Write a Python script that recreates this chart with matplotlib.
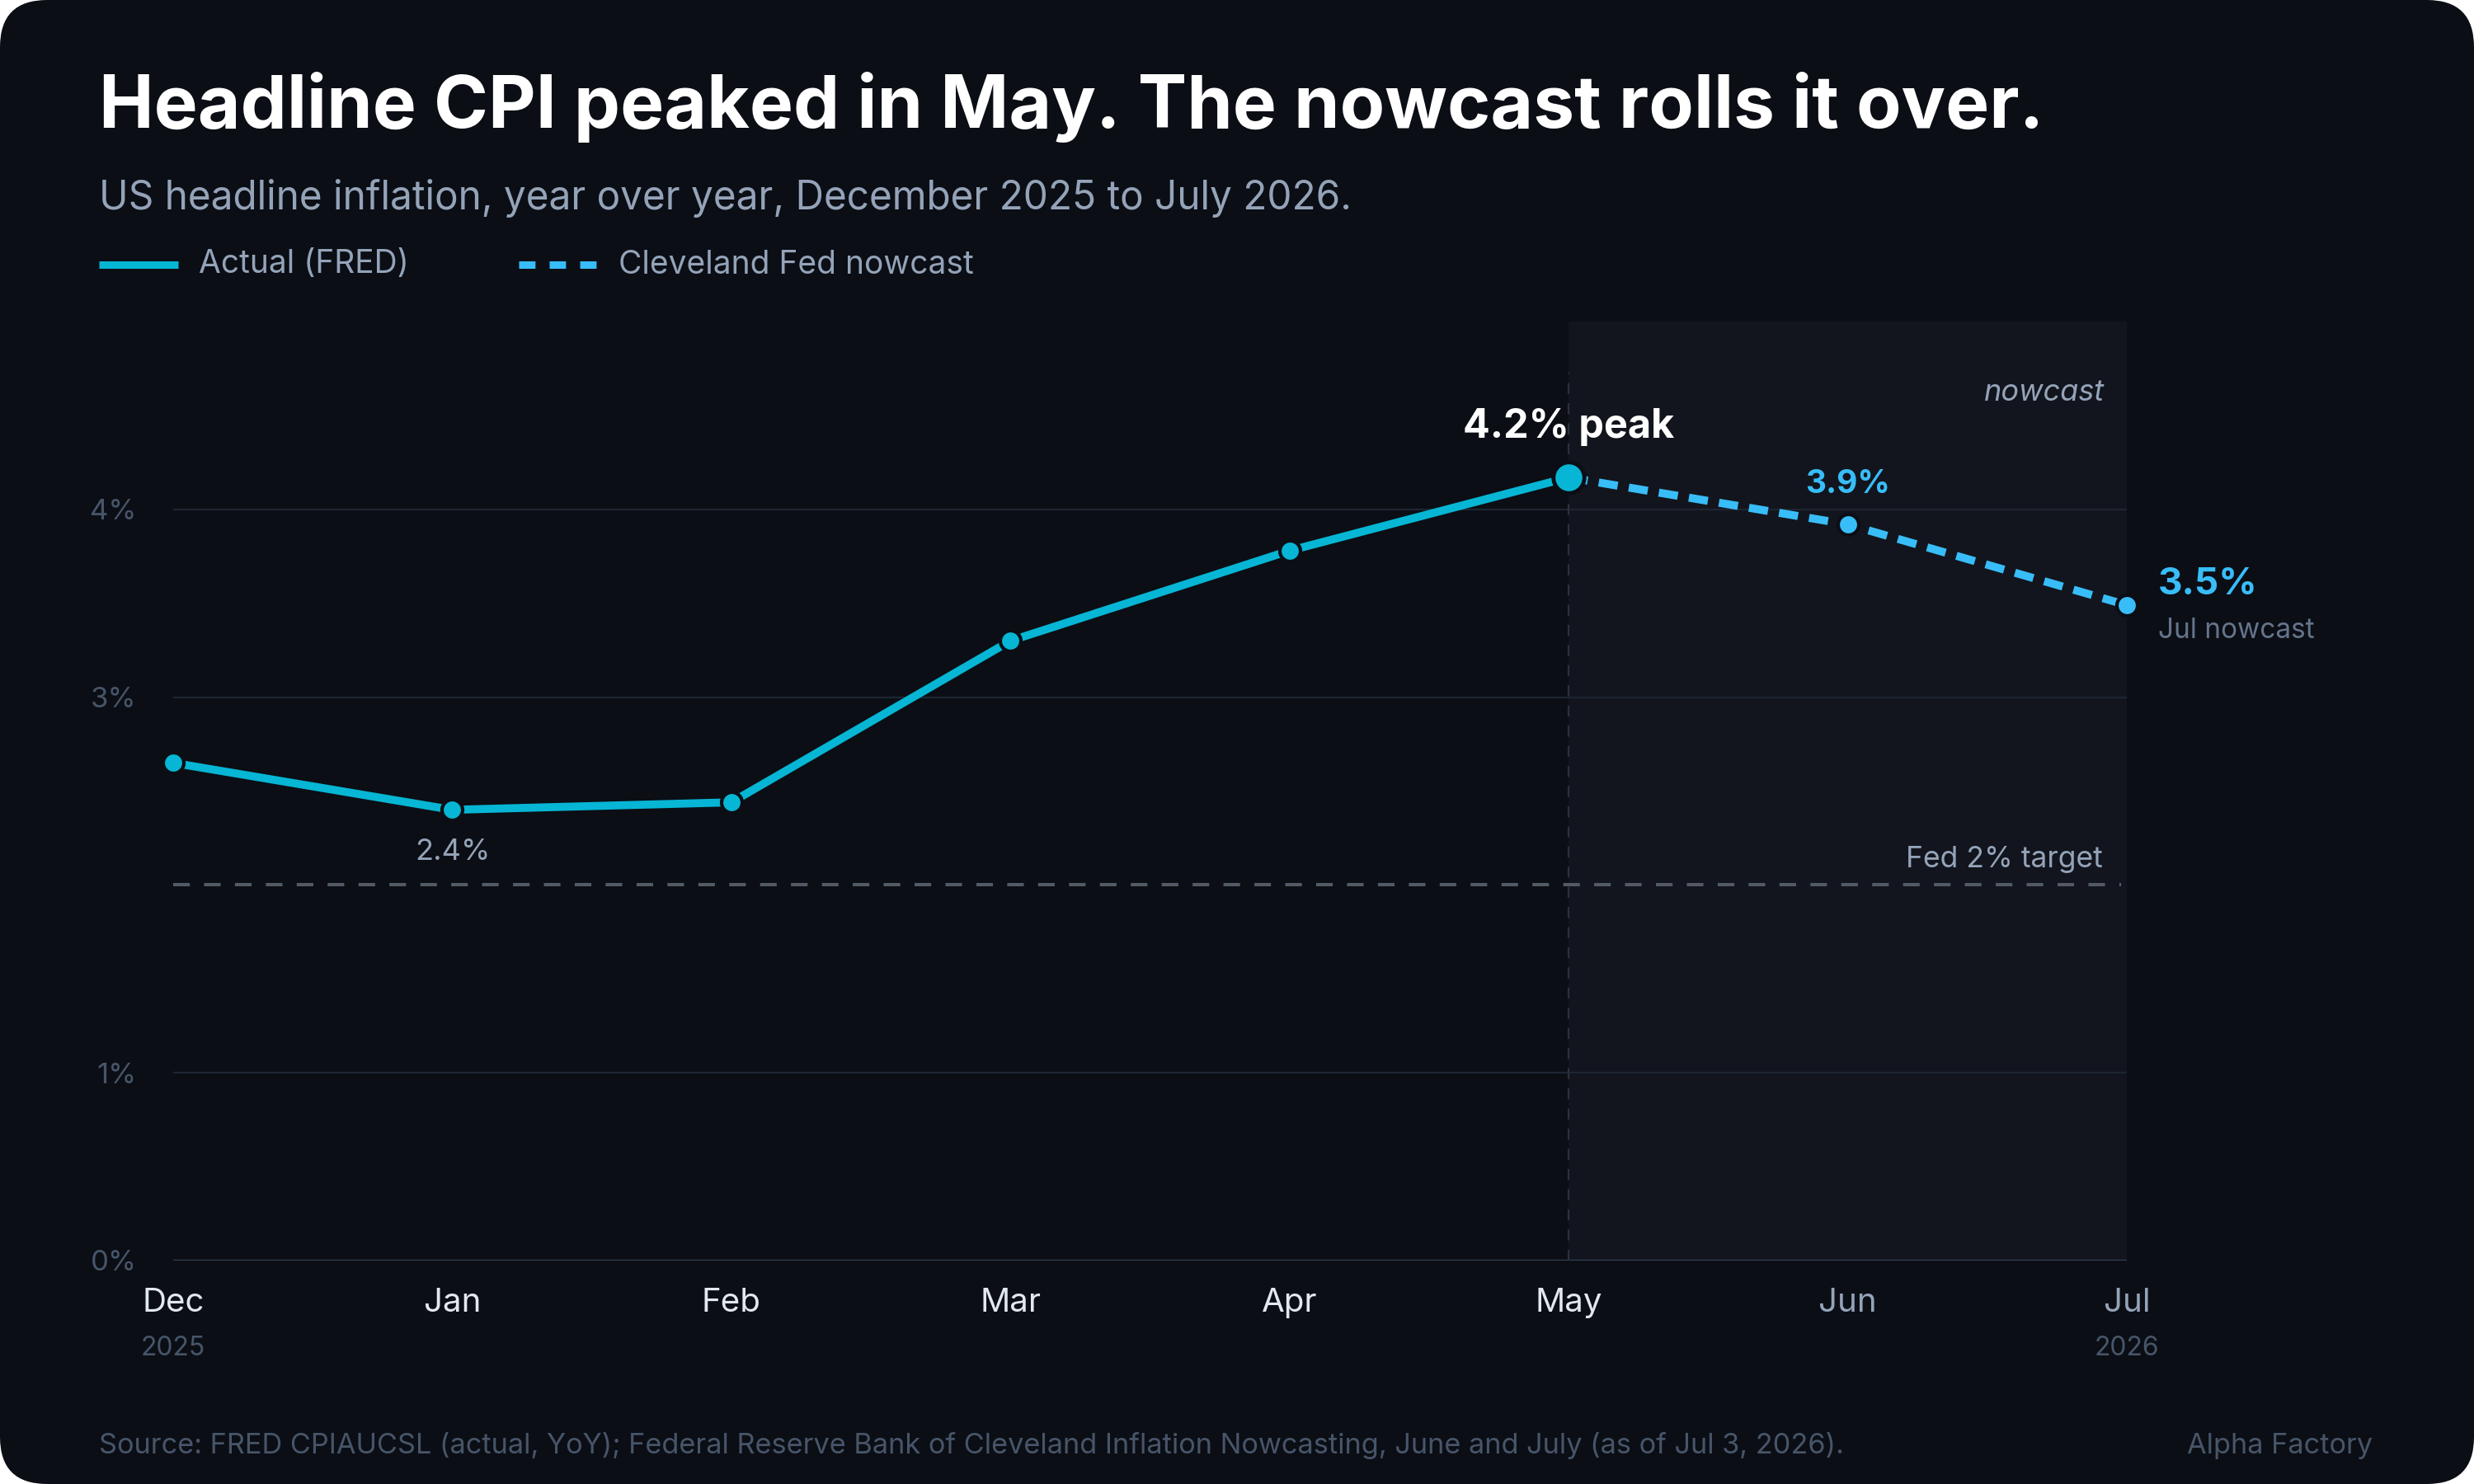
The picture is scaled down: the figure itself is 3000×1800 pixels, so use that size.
import matplotlib.pyplot as plt
from matplotlib.patches import FancyBboxPatch
from matplotlib.lines import Line2D

plt.rcParams['font.family'] = ['Inter', 'DejaVu Sans']

# data
months = ['Dec', 'Jan', 'Feb', 'Mar', 'Apr', 'May', 'Jun', 'Jul']
years = {0: '2025', 7: '2026'}
actual_x = [0, 1, 2, 3, 4, 5]
actual = [2.65, 2.40, 2.44, 3.30, 3.78, 4.17]
nowcast_x = [5, 6, 7]
nowcast = [4.17, 3.92, 3.49]
grid_vals = [0, 1, 3, 4]
target = 2.0

BG = '#0b0e15'
SHADE = '#12151d'
CYAN = '#06b6d4'
SKY = '#38bdf8'
MUTED = '#94a3b8'
DIM = '#475569'

fig = plt.figure(figsize=(30, 18), dpi=100)
fig.patch.set_facecolor('white')
card = FancyBboxPatch((0, 0), 3000, 1800, boxstyle='round,pad=0,rounding_size=57',
                      transform=None, facecolor=BG, edgecolor='none', zorder=-10)
fig.add_artist(card)

ax = fig.add_axes([0.070, 0.1506, 0.7897, 0.6327])
ax.set_facecolor('none')
ax.set_xlim(0, 7)
ax.set_ylim(0, 5)
for s in ax.spines.values():
    s.set_visible(False)

# nowcast shading
ax.axvspan(5, 7, color=SHADE, zorder=0, lw=0)
ax.text(0.9887, 0.924, 'nowcast', transform=ax.transAxes, ha='right', va='center',
        fontsize=26, style='italic', color=MUTED)

# grid
for g in grid_vals:
    if g == 0:
        ax.axhline(g, color='#334155', lw=2.4, zorder=1)
    else:
        ax.axhline(g, color='#1e2532', lw=1.6, zorder=1)
ax.set_yticks(grid_vals)
ax.set_yticklabels([f'{g}%' for g in grid_vals])
ax.tick_params(axis='y', length=0, pad=32, labelsize=25, labelcolor=DIM)
ax.set_xticks([])

# May divider
ax.plot([5, 5], [0, 4.73], color='#2a3140', lw=1.6, ls=(0, (6, 5)), zorder=1)

# Fed target
ax.axhline(target, xmax=0.997, color='#525a66', lw=2.9, ls=(0, (5, 4.3)), zorder=2)
ax.annotate('Fed 2% target', xy=(1, target), xycoords=('axes fraction', 'data'),
            xytext=(-21, 22), textcoords='offset points', ha='right', va='center',
            fontsize=25.6, color=MUTED)

# series
ax.plot(actual_x, actual, color=CYAN, lw=7, solid_capstyle='round', zorder=4)
ax.plot(nowcast_x, nowcast, color=SKY, lw=7, ls=(0, (2.4, 1.4)), zorder=4)
ax.plot(actual_x[:-1], actual[:-1], 'o', ms=18, color=CYAN, mec=BG, mew=3, zorder=5,
        clip_on=False)
ax.plot(nowcast_x[1:], nowcast[1:], 'o', ms=18, color=SKY, mec=BG, mew=3, zorder=5,
        clip_on=False)
ax.plot(actual_x[-1], actual[-1], 'o', ms=27, color=CYAN, mec=BG, mew=3.5, zorder=6)

# point labels
ax.annotate('2.4%', xy=(1, actual[1]), xytext=(0, -37), textcoords='offset points',
            ha='center', va='center', fontsize=26, color=MUTED)
ax.annotate('4.2% peak', xy=(5, actual[5]), xytext=(0, 44), textcoords='offset points',
            ha='center', va='center', fontsize=35, fontweight='bold', color='white')
ax.annotate('3.9%', xy=(6, nowcast[1]), xytext=(0, 35), textcoords='offset points',
            ha='center', va='center', fontsize=28, fontweight='bold', color=SKY)
ax.annotate('3.5%', xy=(7, nowcast[2]), xytext=(27, 18), textcoords='offset points',
            ha='left', va='center', fontsize=33, fontweight='bold', color=SKY,
            annotation_clip=False)
ax.annotate('Jul nowcast', xy=(7, nowcast[2]), xytext=(27, -22), textcoords='offset points',
            ha='left', va='center', fontsize=24, color='#64748b', annotation_clip=False)

# month labels
for i, m in enumerate(months):
    c = '#e2e8f0' if i <= 5 else MUTED
    ax.annotate(m, xy=(i, 0), xycoords=('data', 'axes fraction'), xytext=(0, -37),
                textcoords='offset points', ha='center', va='center', fontsize=29,
                color=c, annotation_clip=False)
for i, y in years.items():
    ax.annotate(y, xy=(i, 0), xycoords=('data', 'axes fraction'), xytext=(0, -77),
                textcoords='offset points', ha='center', va='center', fontsize=23,
                color=DIM, annotation_clip=False)

# title block
fig.text(120 / 3000, 1 - 130 / 1800, 'Headline CPI peaked in May. The nowcast rolls it over.',
         ha='left', va='center', fontsize=64.2, fontweight='bold', color='white')
fig.text(120 / 3000, 1 - 241 / 1800,
         'US headline inflation, year over year, December 2025 to July 2026.',
         ha='left', va='center', fontsize=34.4, color=MUTED)

# legend
ly = 1 - 321 / 1800
fig.add_artist(Line2D([120 / 3000, 216 / 3000], [ly, ly], color=CYAN, lw=6.5,
                      solid_capstyle='butt'))
fig.text(241 / 3000, ly, 'Actual (FRED)', ha='left', va='center', fontsize=28, color=MUTED)
fig.add_artist(Line2D([629 / 3000, 727 / 3000], [ly, ly], color=SKY, lw=6.5,
                      ls=(0, (2.2, 1.9)), dash_capstyle='butt'))
fig.text(750 / 3000, ly, 'Cleveland Fed nowcast', ha='left', va='center', fontsize=28,
         color=MUTED)

# footer
fig.text(120 / 3000, 1 - 1754 / 1800,
         'Source: FRED CPIAUCSL (actual, YoY); Federal Reserve Bank of Cleveland Inflation '
         'Nowcasting, June and July (as of Jul 3, 2026).',
         ha='left', va='center', fontsize=24.7, color=DIM)
fig.text(2877 / 3000, 1 - 1754 / 1800, 'Alpha Factory', ha='right', va='center',
         fontsize=24.7, color=DIM)

fig.savefig('out.png', dpi=100, facecolor=fig.get_facecolor())
